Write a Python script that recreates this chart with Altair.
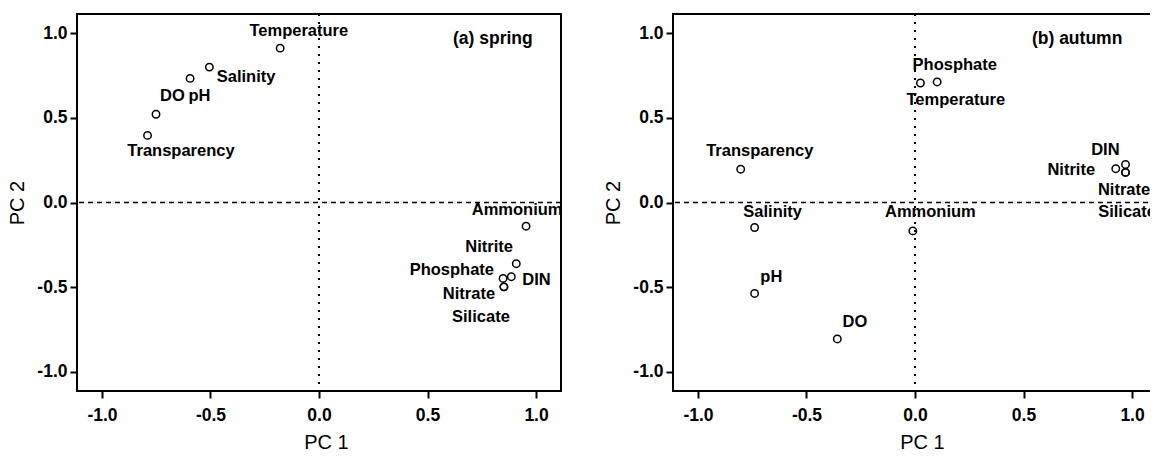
import altair as alt
import pandas as pd

# ---------------- data ----------------
TICKS = [-1.0, -0.5, 0.0, 0.5, 1.0]

spring_vars = ["Temperature", "Salinity", "pH", "DO", "Transparency", "Ammonium",
               "Nitrite", "DIN", "Phosphate", "Nitrate", "Silicate"]
spring_pc1 = [-0.179, -0.505, -0.594, -0.751, -0.790, 0.954, 0.909, 0.886, 0.848, 0.852, 0.852]
spring_pc2 = [0.913, 0.801, 0.734, 0.522, 0.397, -0.140, -0.362, -0.439, -0.449, -0.499, -0.499]
# label anchor positions (PC units)
spring_lab_pc1 = [-0.093, -0.336, -0.551, -0.675, -0.636, 0.913, 0.784, 1.002, 0.612, 0.691, 0.746]
spring_lab_pc2 = [0.982, 0.713, 0.600, 0.600, 0.273, -0.075, -0.292, -0.488, -0.429, -0.573, -0.709]

autumn_vars = ["Temperature", "Phosphate", "Transparency", "Salinity", "Ammonium", "pH",
               "DO", "Nitrite", "DIN", "Nitrate", "Silicate"]
autumn_pc1 = [0.102, 0.025, -0.803, -0.739, -0.010, -0.739, -0.358, 0.925, 0.970, 0.970, 0.970]
autumn_pc2 = [0.713, 0.707, 0.197, -0.148, -0.168, -0.538, -0.807, 0.200, 0.225, 0.178, 0.178]
autumn_lab_pc1 = [0.188, 0.183, -0.715, -0.656, 0.071, -0.662, -0.277, 0.720, 0.877, 0.963, 0.977]
autumn_lab_pc2 = [0.579, 0.786, 0.273, -0.085, -0.085, -0.469, -0.738, 0.161, 0.279, 0.043, -0.085]

panel_titles = ["(a) spring", "(b) autumn"]
panel_title_pc1 = [0.801, 0.747]
panel_title_pc2 = [0.939, 0.939]

FONT = "Liberation Sans"
PW, PH = 484, 377


def panel(vars_, pc1, pc2, lab1, lab2, ptitle, pt1, pt2):
    xs = alt.Scale(domain=[-1.115, 1.115], nice=False, zero=False)
    ys = alt.Scale(domain=[-1.115, 1.115], nice=False, zero=False)
    label_expr = "(datum.value < 0 ? '-' : '') + format(abs(datum.value), '.1f')"
    xaxis = alt.Axis(values=TICKS, labelExpr=label_expr, title="PC 1", titleX=249,
                     labelPadding=8, titlePadding=9)
    yaxis = alt.Axis(values=TICKS, labelExpr=label_expr, title="PC 2",
                     labelPadding=3, titlePadding=9)

    pts = pd.DataFrame({"var": vars_, "pc1": pc1, "pc2": pc2})
    labs = pd.DataFrame({"var": vars_, "lx": lab1, "ly": lab2})
    zero = pd.DataFrame({"z": [0.0]})
    ttl = pd.DataFrame({"t": [ptitle], "tx": [pt1], "ty": [pt2]})

    vline = alt.Chart(zero).mark_rule(color="black", strokeDash=[2, 6], strokeWidth=2).encode(
        x=alt.X("z:Q", scale=xs, axis=xaxis))
    hline = alt.Chart(zero).mark_rule(color="black", strokeDash=[5, 4], strokeWidth=1.5).encode(
        y=alt.Y("z:Q", scale=ys, axis=yaxis))
    points = alt.Chart(pts).mark_point(shape="circle", filled=False, color="black",
                                       size=55, strokeWidth=1.5, opacity=1).encode(
        x=alt.X("pc1:Q", scale=xs, axis=xaxis),
        y=alt.Y("pc2:Q", scale=ys, axis=yaxis))
    texts = alt.Chart(labs).mark_text(font=FONT, fontSize=16.5, fontWeight="bold",
                                      color="black", align="center", baseline="alphabetic").encode(
        x=alt.X("lx:Q", scale=xs, axis=xaxis),
        y=alt.Y("ly:Q", scale=ys, axis=yaxis),
        text="var:N")
    title_txt = alt.Chart(ttl).mark_text(font=FONT, fontSize=17.5, fontWeight="bold",
                                         color="black", align="center", baseline="alphabetic").encode(
        x=alt.X("tx:Q", scale=xs, axis=xaxis),
        y=alt.Y("ty:Q", scale=ys, axis=yaxis),
        text="t:N")
    return alt.layer(vline, hline, points, texts, title_txt).properties(width=PW, height=PH)


left = panel(spring_vars, spring_pc1, spring_pc2, spring_lab_pc1, spring_lab_pc2,
             panel_titles[0], panel_title_pc1[0], panel_title_pc2[0])
right = panel(autumn_vars, autumn_pc1, autumn_pc2, autumn_lab_pc1, autumn_lab_pc2,
              panel_titles[1], panel_title_pc1[1], panel_title_pc2[1])

# fixed 1142x442 canvas; the right panel runs off the edge as in the reference
chart = alt.hconcat(left, right, spacing=38).properties(
    autosize=alt.AutoSizeParams(type="none"),
    padding={"left": 69, "top": 6, "right": 1073, "bottom": 436},
    background="white"
).configure_view(
    stroke="black", strokeWidth=2
).configure_axis(
    domain=False, grid=False, ticks=True, tickColor="black", tickWidth=2, tickSize=7,
    labelFont=FONT, labelFontSize=17.5, labelFontWeight="bold", labelColor="black",
    labelFlush=False, labelOverlap=False,
    titleFont=FONT, titleFontSize=20, titleFontWeight="normal", titleColor="black"
)

chart.save("out.html", embed_options={"renderer": "svg", "actions": False})
